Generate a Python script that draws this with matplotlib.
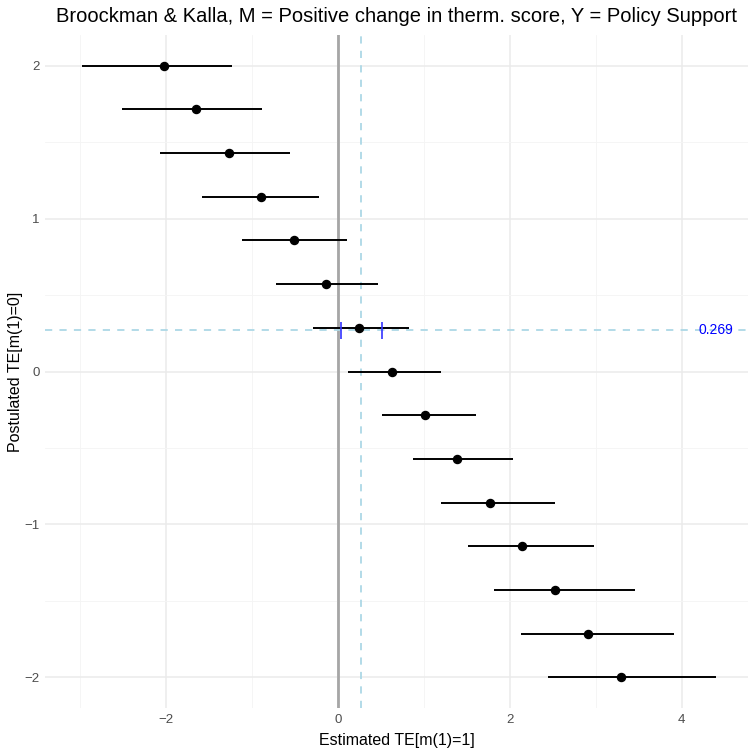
import numpy as np
import matplotlib.pyplot as plt

plt.rcParams['font.family'] = ['Liberation Sans', 'DejaVu Sans']

# postulated TE[m(1)=0] values
postulated = np.linspace(2, -2, 15)
# estimated TE[m(1)=1] with intervals
estimate = np.array([-2.03, -1.65, -1.27, -0.90, -0.51, -0.14, 0.24, 0.63,
                     1.01, 1.38, 1.77, 2.14, 2.52, 2.91, 3.29])
lower = np.array([-2.98, -2.51, -2.07, -1.58, -1.12, -0.72, -0.29, 0.12,
                  0.51, 0.87, 1.20, 1.51, 1.81, 2.13, 2.44])
upper = np.array([-1.23, -0.88, -0.56, -0.22, 0.10, 0.47, 0.83, 1.20,
                  1.60, 2.03, 2.52, 2.98, 3.45, 3.91, 4.40])

crossing = 0.269
crossing_ci = [0.03, 0.51]

fig = plt.figure(figsize=(7.56, 7.56), dpi=100)
ax = fig.add_axes([45/756, 48/756, 703/756, 673/756])

# grid like theme_minimal
for v in [-2, 0, 2, 4]:
    ax.axvline(v, color='#EBEBEB', lw=1.1, zorder=0)
for v in [-3, -1, 1, 3]:
    ax.axvline(v, color='#F4F4F4', lw=0.6, zorder=0)
for v in [-2, -1, 0, 1, 2]:
    ax.axhline(v, color='#EBEBEB', lw=1.1, zorder=0)
for v in [-1.5, -0.5, 0.5, 1.5]:
    ax.axhline(v, color='#F4F4F4', lw=0.6, zorder=0)

ax.axvline(0, color='#A6A6A6', lw=2.0, zorder=1)
ax.axvline(crossing, color='#ADD8E6', lw=1.3, ls=(0, (4, 4)), zorder=1)
ax.axhline(crossing, color='#ADD8E6', lw=1.3, ls=(0, (4, 4)), zorder=1)

ax.hlines(postulated, lower, upper, color='black', lw=1.4, zorder=2)
ax.plot(estimate, postulated, 'o', color='black', ms=5.8, zorder=3)

ax.vlines(crossing_ci, crossing - 0.055, crossing + 0.055, color='#3333FF', lw=1.2, zorder=4)
ax.text(4.4, crossing, f"{crossing:.3f}", color='blue', fontsize=10,
        ha='center', va='center', zorder=5)

ax.set_xlim(-3.41, 4.77)
ax.set_ylim(-2.2, 2.2)
ax.set_xticks([-2, 0, 2, 4])
ax.set_yticks([-2, -1, 0, 1, 2])
ax.tick_params(length=0, labelsize=9.5, labelcolor='#4D4D4D', pad=4)
for s in ax.spines.values():
    s.set_visible(False)

ax.set_xlabel('Estimated TE[m(1)=1]', fontsize=11.5)
ax.set_ylabel('Postulated TE[m(1)=0]', fontsize=11.5)
ax.yaxis.set_label_coords(-0.031, 0.5)
ax.xaxis.set_label_coords(0.5, -0.037)
ax.text(0.5, 1 + 19/673, 'Broockman & Kalla, M = Positive change in therm. score, Y = Policy Support',
        transform=ax.transAxes, fontsize=14.5, ha='center', va='center')

fig.savefig('out.png', dpi=100)
